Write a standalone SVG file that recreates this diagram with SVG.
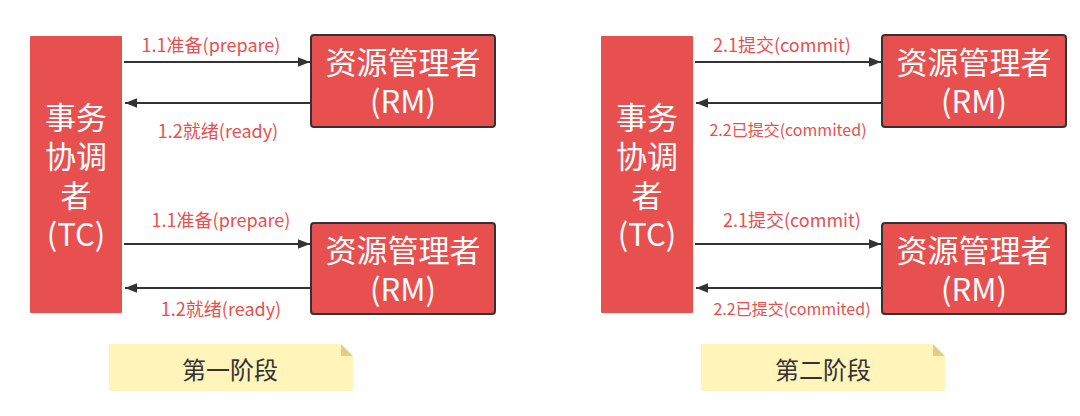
<svg xmlns="http://www.w3.org/2000/svg" width="1080" height="416" viewBox="0 0 1080 416">
<defs>
<style>
.tc{fill:#E8504F;}
.rm{fill:#E8504F;stroke:#333;stroke-width:2;}
.nt{font-family:"Noto Sans CJK SC","Noto Sans",sans-serif;fill:#fff;font-size:31px;text-anchor:middle;}
.lb{font-family:"Noto Sans CJK SC","Noto Sans",sans-serif;fill:#E8504F;font-size:18px;text-anchor:middle;dominant-baseline:central;}
.lbs{font-size:16px;}
.ln{stroke:#333;stroke-width:2;fill:none;marker-end:url(#ah);}
.note{fill:#FFF4BA;}
.fold{fill:#E3CD86;}
.nl{font-family:"Noto Sans CJK SC","Noto Sans",sans-serif;fill:#333;font-size:24px;text-anchor:middle;dominant-baseline:central;}
</style>
<marker id="ah" viewBox="0 0 10 10" refX="10" refY="5" markerWidth="6" markerHeight="6" markerUnits="strokeWidth" orient="auto">
<path d="M0,1 L10,5 L0,9 z" fill="#333"/>
</marker>
</defs>

<g id="connectors">
<line class="ln" x1="124" y1="62" x2="310" y2="62"/>
<line class="ln" x1="311" y1="103" x2="125" y2="103"/>
<line class="ln" x1="124" y1="244" x2="310" y2="244"/>
<line class="ln" x1="311" y1="288" x2="125" y2="288"/>
<line class="ln" x1="695" y1="62" x2="881" y2="62"/>
<line class="ln" x1="882" y1="103" x2="696" y2="103"/>
<line class="ln" x1="695" y1="244" x2="881" y2="244"/>
<line class="ln" x1="882" y1="288" x2="696" y2="288"/>
<text class="lb" x="211" y="44">1.1准备(prepare)</text>
<text class="lb" x="218" y="130">1.2就绪(ready)</text>
<text class="lb" x="221" y="219">1.1准备(prepare)</text>
<text class="lb" x="221" y="308">1.2就绪(ready)</text>
<text class="lb" x="782" y="44">2.1提交(commit)</text>
<text class="lb lbs" x="788" y="129">2.2已提交(commited)</text>
<text class="lb" x="792" y="219">2.1提交(commit)</text>
<text class="lb lbs" x="792" y="308">2.2已提交(commited)</text>
</g>

<g id="tc1">
<rect class="tc" x="30" y="36" width="92" height="277" rx="1"/>
<text class="nt" x="76" y="129"><tspan x="76">事务</tspan><tspan x="76" dy="39">协调</tspan><tspan x="76" dy="39">者</tspan><tspan x="76" dy="39">(TC)</tspan></text>
</g>
<g id="rm1">
<rect class="rm" x="311" y="35" width="184" height="92" rx="3"/>
<text class="nt" x="403" y="74"><tspan x="403">资源管理者</tspan><tspan x="403" dy="39">(RM)</tspan></text>
</g>
<g id="rm2">
<rect class="rm" x="311" y="223" width="184" height="91" rx="3"/>
<text class="nt" x="403" y="262"><tspan x="403">资源管理者</tspan><tspan x="403" dy="39">(RM)</tspan></text>
</g>
<g id="note1">
<path class="note" d="M109,344 H341 L353,356 V391 H109 Z"/>
<path class="fold" d="M341,344 L353,356 H341 Z"/>
<text class="nl" x="230" y="368">第一阶段</text>
</g>

<g id="tc2">
<rect class="tc" x="601" y="36" width="92" height="277" rx="1"/>
<text class="nt" x="647" y="129"><tspan x="647">事务</tspan><tspan x="647" dy="39">协调</tspan><tspan x="647" dy="39">者</tspan><tspan x="647" dy="39">(TC)</tspan></text>
</g>
<g id="rm3">
<rect class="rm" x="882" y="35" width="184" height="92" rx="3"/>
<text class="nt" x="974" y="74"><tspan x="974">资源管理者</tspan><tspan x="974" dy="39">(RM)</tspan></text>
</g>
<g id="rm4">
<rect class="rm" x="882" y="223" width="184" height="91" rx="3"/>
<text class="nt" x="974" y="262"><tspan x="974">资源管理者</tspan><tspan x="974" dy="39">(RM)</tspan></text>
</g>
<g id="note2">
<path class="note" d="M701,344 H933 L945,356 V391 H701 Z"/>
<path class="fold" d="M933,344 L945,356 H933 Z"/>
<text class="nl" x="823" y="368">第二阶段</text>
</g>
</svg>
